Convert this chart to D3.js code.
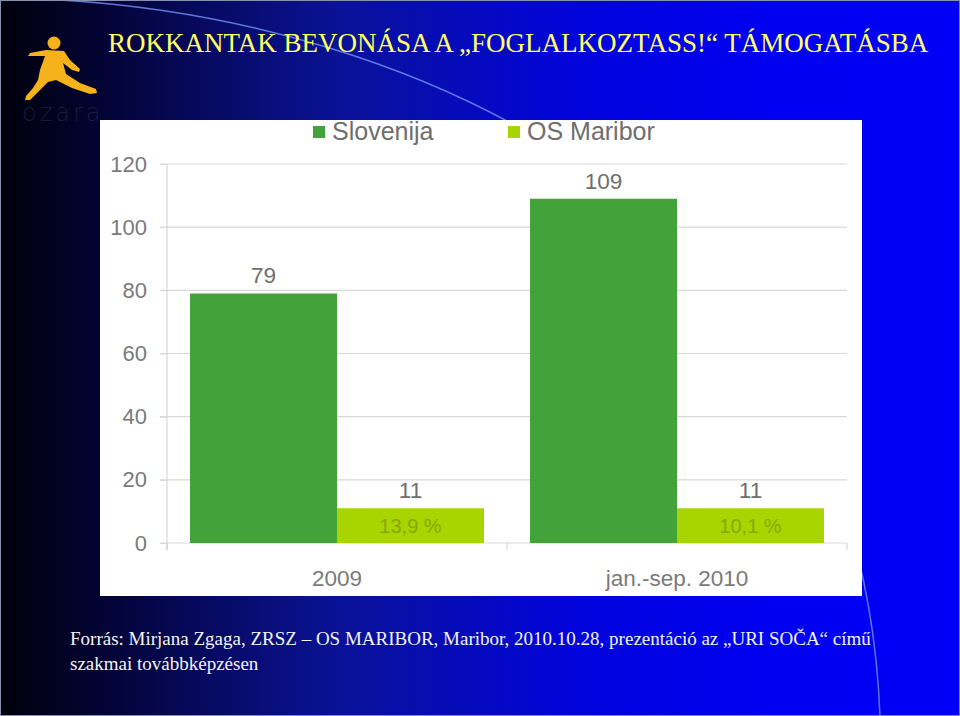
<!DOCTYPE html>
<html><head><meta charset="utf-8">
<script src="https://cdn.jsdelivr.net/npm/d3@7"></script>
<style>html,body{margin:0;padding:0;background:#fff;}svg{display:block;}</style>
</head><body>
<script>
const categories = ["2009", "jan.-sep. 2010"];
const seriesNames = ["Slovenija", "OS Maribor"];
const slovenija = [79, 109];
const osMaribor = [11, 11];
const osShare = ["13,9 %", "10,1 %"];
const yTicks = [0, 20, 40, 60, 80, 100, 120];
const titleText = "ROKKANTAK BEVONÁSA A „FOGLALKOZTASS!“ TÁMOGATÁSBA";
const footer1 = "Forrás: Mirjana Zgaga, ZRSZ – OS MARIBOR, Maribor, 2010.10.28, prezentáció az „URI SOČA“ című";
const footer2 = "szakmai továbbképzésen";

const W = 960, H = 716;
const colors = {"Slovenija": "#43a33a", "OS Maribor": "#a8d500"};

const svg = d3.select("body").append("svg").attr("width", W).attr("height", H);
const defs = svg.append("defs");
const g1 = defs.append("linearGradient").attr("id", "bg").attr("x1", 0).attr("x2", 1).attr("y1", 0).attr("y2", 0);
[[0, "#00000c"], [0.12, "#04043a"], [0.35, "#0a1296"], [0.6, "#0204dc"], [0.8, "#0000f2"], [1, "#0000f6"]]
  .forEach(([o, c]) => g1.append("stop").attr("offset", o).attr("stop-color", c));
svg.append("rect").attr("width", W).attr("height", H).attr("fill", "url(#bg)");

// decorative arc
svg.append("path").attr("d", "M60,0 C400,20 860,200 880,716")
  .attr("fill", "none").attr("stroke", "#6f8cf0").attr("stroke-width", 1.5).attr("opacity", 0.85);

// border
svg.append("rect").attr("x", 0.5).attr("y", 0.5).attr("width", W - 1).attr("height", H - 1)
  .attr("fill", "none").attr("stroke", "#8890b0").attr("stroke-width", 1);

// logo
const logo = svg.append("g");
logo.append("circle").attr("cx", 54).attr("cy", 43).attr("r", 6.5).attr("fill", "#f6b21b");
logo.append("path").attr("fill", "#f6b21b").attr("d",
  "M46,50 L30,53 L28,56 L45,56 L40,70 L38,80 L33,88 L26,96 L25,100 L30,100 L40,90 L48,82 L56,80 L72,88 L90,94 L97,93 L96,89 L80,83 L66,74 L63,63 L72,70 L79,72 L80,69 L70,60 L64,51 Z");
logo.append("text").attr("x", 22).attr("y", 121).text("ozara")
  .attr("font-family", "DejaVu Sans, sans-serif").attr("font-size", 24).attr("letter-spacing", 3)
  .attr("fill", "#1a1a3c").attr("font-weight", 200);

// title
svg.append("text").attr("x", 108).attr("y", 52).text(titleText)
  .attr("font-family", "Liberation Serif, serif").attr("font-size", 27).attr("fill", "#ffff66");

// chart panel
svg.append("rect").attr("x", 100).attr("y", 120).attr("width", 762).attr("height", 476).attr("fill", "#ffffff");

const y = d3.scaleLinear().domain([0, 120]).range([543, 164]);
const x0 = d3.scaleBand().domain(categories).range([167, 847]).padding(0);
const x1 = d3.scaleBand().domain(seriesNames).range([23, x0.bandwidth() - 23]).padding(0);

const font = "Liberation Sans, Arial, sans-serif";
const grid = svg.append("g");
grid.selectAll("line").data(yTicks).join("line")
  .attr("x1", 160).attr("x2", 847).attr("y1", d => y(d)).attr("y2", d => y(d))
  .attr("stroke", "#d9d9d9").attr("stroke-width", 1.2);

const yAxis = svg.append("g").attr("transform", "translate(167,0)")
  .call(d3.axisLeft(y).tickValues(yTicks).tickSize(7).tickPadding(13));
yAxis.select(".domain").attr("stroke", "#d0d0d0").attr("d", "M0,164V550");
yAxis.selectAll(".tick line").attr("stroke", "#d9d9d9");
yAxis.selectAll("text").attr("font-family", font).attr("font-size", 22).attr("fill", "#7a7a7a");

const xAxis = svg.append("g").attr("transform", "translate(0,543)")
  .call(d3.axisBottom(x0).tickSize(0).tickPadding(27));
xAxis.select(".domain").remove();
xAxis.selectAll("text").attr("font-family", font).attr("font-size", 22.5).attr("fill", "#7a7a7a");
svg.append("g").selectAll("line").data([x0.range()[0], ...categories.map(c => x0(c) + x0.bandwidth())])
  .join("line").attr("x1", d => d).attr("x2", d => d).attr("y1", 543).attr("y2", 550)
  .attr("stroke", "#d0d0d0");

const rows = categories.map((c, i) => ({c, vals: [
  {s: "Slovenija", v: slovenija[i], pct: null},
  {s: "OS Maribor", v: osMaribor[i], pct: osShare[i]}
]}));
const groups = svg.append("g").selectAll("g").data(rows).join("g")
  .attr("transform", d => `translate(${x0(d.c)},0)`);
groups.selectAll("rect").data(d => d.vals).join("rect")
  .attr("x", d => x1(d.s)).attr("width", x1.bandwidth())
  .attr("y", d => y(d.v)).attr("height", d => y(0) - y(d.v))
  .attr("fill", d => colors[d.s]);
groups.selectAll("text.val").data(d => d.vals).join("text").attr("class", "val")
  .attr("x", d => x1(d.s) + x1.bandwidth() / 2).attr("y", d => y(d.v) - 10)
  .attr("text-anchor", "middle").attr("font-family", font).attr("font-size", 22.5).attr("fill", "#6e6e6e")
  .text(d => d.v);
groups.selectAll("text.pct").data(d => d.vals.filter(v => v.pct)).join("text").attr("class", "pct")
  .attr("x", d => x1(d.s) + x1.bandwidth() / 2).attr("y", d => (y(d.v) + y(0)) / 2 + 7)
  .attr("text-anchor", "middle").attr("font-family", font).attr("font-size", 20).attr("fill", "#86a800")
  .text(d => d.pct);

// legend
const legX = [313, 508];
const leg = svg.append("g").selectAll("g").data(seriesNames).join("g")
  .attr("transform", (d, i) => `translate(${legX[i]},126)`);
leg.append("rect").attr("width", 12).attr("height", 12).attr("fill", d => colors[d]);
leg.append("text").attr("x", 19).attr("y", 14).text(d => d)
  .attr("font-family", font).attr("font-size", 25).attr("fill", "#6e6e6e");

// footer
svg.append("text").attr("x", 70).attr("y", 645).text(footer1)
  .attr("font-family", "Liberation Serif, serif").attr("font-size", 19).attr("fill", "#f4f4f4");
svg.append("text").attr("x", 70).attr("y", 670).text(footer2)
  .attr("font-family", "Liberation Serif, serif").attr("font-size", 19).attr("fill", "#f4f4f4");
</script>
</body></html>
